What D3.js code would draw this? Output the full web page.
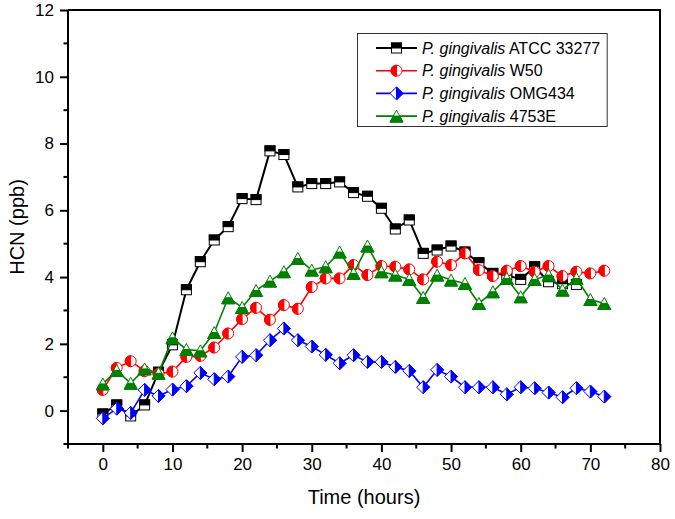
<!DOCTYPE html>
<html>
<head>
<meta charset="utf-8">
<script src="https://cdn.jsdelivr.net/npm/d3@7"></script>
<style>
  html, body { margin: 0; padding: 0; background: #fff; }
  svg { display: block; font-family: Arial, "Liberation Sans", sans-serif; }
</style>
</head>
<body>
<svg id="chart" width="675" height="519"></svg>
<script>
// ---- Data ----
const timeHours = [0,2,4,6,8,10,12,14,16,18,20,22,24,26,28,30,32,34,36,38,40,42,44,46,48,50,52,54,56,58,60,62,64,66,68,70,72];

const atcc33277 = [-0.1,0.17,-0.16,0.17,1.15,1.97,3.62,4.46,5.11,5.51,6.35,6.32,7.78,7.67,6.7,6.8,6.8,6.85,6.53,6.42,6.06,5.44,5.71,4.71,4.81,4.93,4.75,4.43,4.11,4.06,3.93,4.31,3.86,3.8,3.78];
const w50 = [0.62,1.28,1.48,1.18,1.1,1.17,1.61,1.64,1.89,2.31,2.74,3.08,2.72,3.16,3.05,3.7,3.96,3.96,4.36,4.06,4.33,4.31,4.23,3.93,4.46,4.36,4.71,4.21,4.03,4.19,4.33,4.16,4.33,4.03,4.16,4.11,4.19];
const omg434 = [-0.23,0.06,-0.07,0.62,0.44,0.63,0.73,1.13,0.94,1.02,1.61,1.66,2.11,2.46,2.11,1.92,1.67,1.42,1.66,1.46,1.46,1.31,1.19,0.7,1.22,1.02,0.7,0.7,0.7,0.49,0.7,0.67,0.54,0.4,0.67,0.57,0.42];
const e4753 = [0.8,1.2,0.82,1.25,1.12,2.18,1.83,1.79,2.34,3.38,3.09,3.6,3.88,4.16,4.56,4.21,4.31,4.75,4.11,4.93,4.16,4.06,3.93,3.39,4.06,3.91,3.81,3.21,3.56,3.96,3.41,3.93,4.06,3.61,3.96,3.33,3.21];

const xMajorTicks = [0,10,20,30,40,50,60,70,80];
const xMinorTicks = [-5,5,15,25,35,45,55,65,75];
const yMajorTicks = [0,2,4,6,8,10,12];
const yMinorTicks = [-1,1,3,5,7,9,11];

const seriesNames = ["ATCC 33277","W50","OMG434","4753E"];
const seriesColors = ["#000000","#ff0000","#0000ff","#008000"];
const seriesMarkers = ["square","circle","diamond","triangle"];
const seriesValues = [atcc33277, w50, omg434, e4753];

// ---- Layout ----
const pL = 68, pR = 660, pT = 10, pB = 444;
const svg = d3.select("#chart");
const x = d3.scaleLinear().domain([-5, 80]).range([pL, pR]);
const y = d3.scaleLinear().domain([-1, 12]).range([pB, pT]);

// Frame (top and right)
svg.append("path")
  .attr("d", `M${pL},${pT}H${pR}V${pB}`)
  .attr("fill","none").attr("stroke","#000").attr("stroke-width",2);

// X axis
const xAxis = svg.append("g").attr("transform",`translate(0,${pB})`)
  .call(d3.axisBottom(x).tickValues(xMajorTicks).tickSize(8).tickPadding(6).tickFormat(d3.format("d")));
xAxis.select(".domain").attr("stroke-width",2).attr("d",`M${pL},0H${pR}`);
xAxis.selectAll(".tick line").attr("stroke-width",2);
xAxis.selectAll(".tick text").attr("font-size",17).attr("fill","#000")
  .attr("font-family","Arial, 'Liberation Sans', sans-serif");
xAxis.selectAll(".minor").data(xMinorTicks).enter().append("line")
  .attr("x1",d=>x(d)).attr("x2",d=>x(d)).attr("y1",0).attr("y2",4.5)
  .attr("stroke","#000").attr("stroke-width",2);

// Y axis
const yAxis = svg.append("g").attr("transform",`translate(${pL},0)`)
  .call(d3.axisLeft(y).tickValues(yMajorTicks).tickSize(8).tickPadding(6).tickFormat(d3.format("d")));
yAxis.select(".domain").attr("stroke-width",2).attr("d",`M0,${pB}V${pT}`);
yAxis.selectAll(".tick line").attr("stroke-width",2);
yAxis.selectAll(".tick text").attr("font-size",17).attr("fill","#000")
  .attr("font-family","Arial, 'Liberation Sans', sans-serif");
yAxis.selectAll(".minor").data(yMinorTicks).enter().append("line")
  .attr("y1",d=>y(d)).attr("y2",d=>y(d)).attr("x1",0).attr("x2",-4.5)
  .attr("stroke","#000").attr("stroke-width",2);

// Axis titles
svg.append("text").attr("x",(pL+pR)/2).attr("y",504)
  .attr("text-anchor","middle").attr("font-size",20).text("Time (hours)");
svg.append("text").attr("transform",`translate(24,${(pT+pB)/2}) rotate(-90)`)
  .attr("text-anchor","middle").attr("font-size",20).text("HCN (ppb)");

// ---- Markers ----
function drawMarker(g, type, color) {
  if (type === "square") {
    const s = 10;
    g.append("rect").attr("x",-s/2).attr("y",-s/2).attr("width",s).attr("height",s)
      .attr("fill","#fff").attr("stroke",color).attr("stroke-width",1);
    g.append("rect").attr("x",-s/2).attr("y",-s/2).attr("width",s).attr("height",s/2)
      .attr("fill",color).attr("stroke",color).attr("stroke-width",1);
  } else if (type === "circle") {
    const r = 5.5;
    g.append("circle").attr("r",r).attr("fill","#fff").attr("stroke",color).attr("stroke-width",1);
    g.append("path").attr("d",`M0,${-r}A${r},${r} 0 0 0 0,${r}Z`)
      .attr("fill",color).attr("stroke",color).attr("stroke-width",1);
  } else if (type === "diamond") {
    const h = 6.5;
    g.append("path").attr("d",`M0,${-h}L${h},0L0,${h}L${-h},0Z`)
      .attr("fill","#fff").attr("stroke",color).attr("stroke-width",1);
    g.append("path").attr("d",`M0,${-h}L${h},0L0,${h}Z`)
      .attr("fill",color).attr("stroke",color).attr("stroke-width",1);
  } else if (type === "triangle") {
    const h = 6, w = 6.5;
    g.append("path").attr("d",`M0,${-h}L${w},${h}L${-w},${h}Z`)
      .attr("fill","#fff").attr("stroke",color).attr("stroke-width",1);
    g.append("path").attr("d",`M${-w/2},0L${w/2},0L${w},${h}L${-w},${h}Z`)
      .attr("fill",color).attr("stroke",color).attr("stroke-width",1);
  }
}

const line = d3.line().x(d=>x(d[0])).y(d=>y(d[1]));

seriesValues.forEach((vals, i) => {
  const pts = vals.map((v, k) => [timeHours[k], v]);
  const g = svg.append("g");
  g.append("path").datum(pts).attr("d", line)
    .attr("fill","none").attr("stroke",seriesColors[i])
    .attr("stroke-width", i === 0 ? 2 : 1.6).attr("stroke-linejoin","round");
  pts.forEach(p => {
    const mg = g.append("g").attr("transform",`translate(${x(p[0])},${y(p[1])})`);
    drawMarker(mg, seriesMarkers[i], seriesColors[i]);
  });
});

// ---- Legend ----
const lg = svg.append("g");
const lgBox = lg.append("rect").attr("x",357.5).attr("y",33.5).attr("height",93)
  .attr("fill","#fff").attr("stroke","#333").attr("stroke-width",1);
let maxEnd = 0;
seriesNames.forEach((name, i) => {
  const yy = 48 + i*22.7;
  lg.append("line").attr("x1",376).attr("x2",417).attr("y1",yy).attr("y2",yy)
    .attr("stroke",seriesColors[i]).attr("stroke-width", i === 0 ? 2 : 1.6);
  const mg = lg.append("g").attr("transform",`translate(396.5,${yy})`);
  drawMarker(mg, seriesMarkers[i], seriesColors[i]);
  const t = lg.append("text").attr("x",422).attr("y",yy+5.5).attr("font-size",16);
  t.append("tspan").attr("font-style","italic").text("P. gingivalis");
  t.append("tspan").text(" " + name);
  maxEnd = Math.max(maxEnd, 422 + t.node().getComputedTextLength());
});
lgBox.attr("width", Math.max(226, maxEnd + 7 - 357.5));
</script>
</body>
</html>
